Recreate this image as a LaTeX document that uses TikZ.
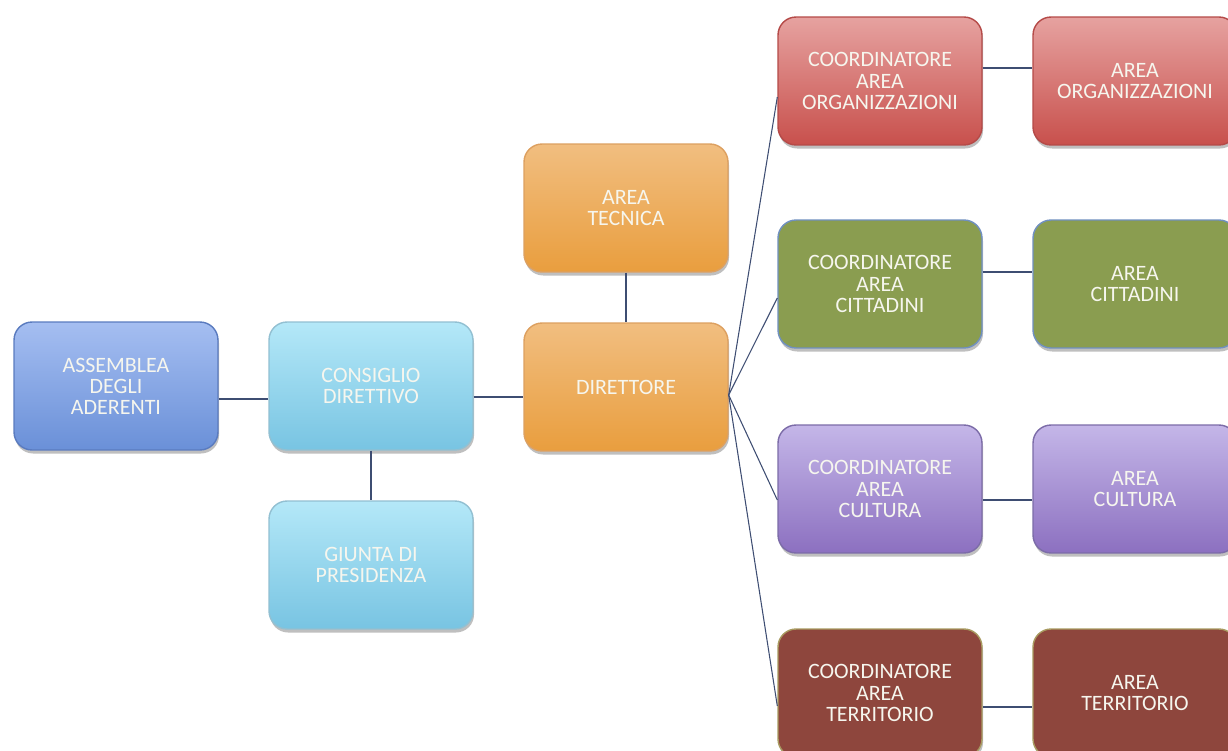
\documentclass[tikz,border=0pt]{standalone}
\usepackage{fontspec}
\setmainfont{Carlito}
\usetikzlibrary{shadows}
\definecolor{linec}{HTML}{3E4D72}
\definecolor{txt}{HTML}{F6F6EE}
\definecolor{HTML5A7BBF}{HTML}{5A7BBF}
\definecolor{HTMLA5BEF1}{HTML}{A5BEF1}
\definecolor{HTML6A90D8}{HTML}{6A90D8}
\definecolor{HTML92C0D2}{HTML}{92C0D2}
\definecolor{HTMLB4E8F8}{HTML}{B4E8F8}
\definecolor{HTML78C4E2}{HTML}{78C4E2}
\definecolor{HTMLDDA060}{HTML}{DDA060}
\definecolor{HTMLF1BE80}{HTML}{F1BE80}
\definecolor{HTMLE99E3E}{HTML}{E99E3E}
\definecolor{HTMLB54A48}{HTML}{B54A48}
\definecolor{HTMLE6A2A0}{HTML}{E6A2A0}
\definecolor{HTMLC8504C}{HTML}{C8504C}
\definecolor{HTML7090C0}{HTML}{7090C0}
\definecolor{HTML8A9D50}{HTML}{8A9D50}
\definecolor{HTML7C6CA8}{HTML}{7C6CA8}
\definecolor{HTMLC4B6E8}{HTML}{C4B6E8}
\definecolor{HTML8C70C0}{HTML}{8C70C0}
\definecolor{HTMLA89A60}{HTML}{A89A60}
\definecolor{HTML8E463D}{HTML}{8E463D}
\tikzset{
  box/.style={rounded corners=0.36cm, minimum width=4.08cm, minimum height=2.56cm,
    align=center, text=txt, font=\fontsize{12.5}{12}\selectfont, line width=0.8pt,
    drop shadow={shadow xshift=0.6pt, shadow yshift=-2pt, opacity=0.25, fill=black}},
  bluebox/.style={box, draw=HTML5A7BBF, top color=HTMLA5BEF1, bottom color=HTML6A90D8},
  cyanbox/.style={box, draw=HTML92C0D2, top color=HTMLB4E8F8, bottom color=HTML78C4E2},
  orangebox/.style={box, draw=HTMLDDA060, top color=HTMLF1BE80, bottom color=HTMLE99E3E},
  redbox/.style={box, draw=HTMLB54A48, top color=HTMLE6A2A0, bottom color=HTMLC8504C},
  greenbox/.style={box, draw=HTML7090C0, fill=HTML8A9D50},
  purplebox/.style={box, draw=HTML7C6CA8, top color=HTMLC4B6E8, bottom color=HTML8C70C0},
  brownbox/.style={box, draw=HTMLA89A60, fill=HTML8E463D},
  conn/.style={draw=linec, line width=0.6pt},
}
\begin{document}
\begin{tikzpicture}[x=0.02cm, y=-0.02cm]
\clip (0,0) rectangle (1228,751);
\fill[white] (0,0) rectangle (1228,751);
\node[bluebox] (ass) at (116,386) {ASSEMBLEA\\DEGLI\\ADERENTI};
\node[cyanbox] (cons) at (371,386) {CONSIGLIO\\DIRETTIVO};
\node[cyanbox] (giu) at (371,565) {GIUNTA DI\\PRESIDENZA};
\node[orangebox] (tec) at (626,208) {AREA\\TECNICA};
\node[orangebox] (dir) at (626,387) {DIRETTORE};
\node[redbox] (c1) at (880,81) {COORDINATORE\\AREA\\ORGANIZZAZIONI};
\node[redbox] (a1) at (1135,81) {AREA\\ORGANIZZAZIONI};
\node[greenbox] (c2) at (880,284) {COORDINATORE\\AREA\\CITTADINI};
\node[greenbox] (a2) at (1135,284) {AREA\\CITTADINI};
\node[purplebox] (c3) at (880,489) {COORDINATORE\\AREA\\CULTURA};
\node[purplebox] (a3) at (1135,489) {AREA\\CULTURA};
\node[brownbox] (c4) at (880,693) {COORDINATORE\\AREA\\TERRITORIO};
\node[brownbox] (a4) at (1135,693) {AREA\\TERRITORIO};
\draw[conn] ([yshift=-0.26cm]ass.east) -- ([yshift=-0.26cm]cons.west);
\draw[conn] ([yshift=-0.22cm]cons.east) -- ([yshift=-0.2cm]dir.west);
\draw[conn] (cons.south) -- (giu.north);
\draw[conn] (tec.south) -- (dir.north);
\draw[conn] ([yshift=-0.16cm]dir.east) -- ([yshift=-0.32cm]c1.west);
\draw[conn] ([yshift=-0.16cm]dir.east) -- ([yshift=-0.28cm]c2.west);
\draw[conn] ([yshift=-0.16cm]dir.east) -- ([yshift=-0.22cm]c3.west);
\draw[conn] ([yshift=-0.16cm]dir.east) -- ([yshift=-0.26cm]c4.west);
\draw[conn] ([yshift=0.26cm]c1.east) -- ([yshift=0.26cm]a1.west);
\draw[conn] ([yshift=0.24cm]c2.east) -- ([yshift=0.24cm]a2.west);
\draw[conn] ([yshift=-0.22cm]c3.east) -- ([yshift=-0.22cm]a3.west);
\draw[conn] ([yshift=-0.28cm]c4.east) -- ([yshift=-0.28cm]a4.west);
\end{tikzpicture}
\end{document}
